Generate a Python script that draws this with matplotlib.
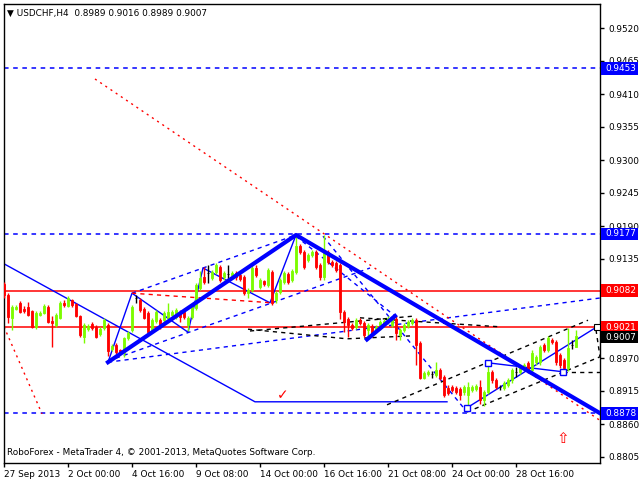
import matplotlib
matplotlib.use("Agg")
import matplotlib.pyplot as plt
from matplotlib.patches import Rectangle
import numpy as np

# USDCHF H4 candles
opens = [0.9093, 0.9075, 0.9037, 0.9052, 0.9062, 0.9052, 0.9055, 0.9048, 0.9022, 0.9042,
         0.9045, 0.9055, 0.9032, 0.9025, 0.9037, 0.9062, 0.9057, 0.9067, 0.9060, 0.9040,
         0.9005, 0.9018, 0.9027, 0.9022, 0.9010, 0.9020, 0.9025, 0.8985, 0.8992, 0.8983,
         0.8978, 0.9003, 0.9017, 0.9070, 0.9067, 0.9052, 0.9045, 0.9017, 0.9032, 0.9033,
         0.9033, 0.9037, 0.9042, 0.9038, 0.9047, 0.9047, 0.9025, 0.9038, 0.9053, 0.9087,
         0.9105, 0.9112, 0.9103, 0.9113, 0.9122, 0.9105, 0.9110, 0.9108, 0.9112, 0.9108,
         0.9105, 0.9078, 0.9083, 0.9120, 0.9088, 0.9098, 0.9092, 0.9113, 0.9067, 0.9080,
         0.9097, 0.9110, 0.9100, 0.9113, 0.9157, 0.9147, 0.9133, 0.9142, 0.9147, 0.9125,
         0.9105, 0.9147, 0.9130, 0.9128, 0.9125, 0.9047, 0.9035, 0.9025, 0.9022, 0.9033,
         0.9028, 0.9017, 0.9023, 0.9015, 0.9020, 0.9025, 0.9030, 0.9025, 0.9035, 0.9008,
         0.9017, 0.9023, 0.9028, 0.9033, 0.8995, 0.8937, 0.8943, 0.8944, 0.8942, 0.8950,
         0.8938, 0.8920, 0.8922, 0.8920, 0.8918, 0.8913, 0.8908, 0.8917, 0.8918, 0.8922,
         0.8900, 0.8913, 0.8947, 0.8933, 0.8921, 0.8920, 0.8925, 0.8933, 0.8946, 0.8947,
         0.8953, 0.8962, 0.8950, 0.8963, 0.8963, 0.8992, 0.8983, 0.9000, 0.8997, 0.8975,
         0.8967, 0.8953, 0.8992, 0.8989]
highs = [0.9097, 0.9078, 0.9058, 0.9058, 0.9065, 0.9057, 0.9063, 0.9050, 0.9048, 0.9048,
         0.9060, 0.9058, 0.9040, 0.9045, 0.9065, 0.9067, 0.9073, 0.9068, 0.9062, 0.9042,
         0.9028, 0.9027, 0.9030, 0.9025, 0.9022, 0.9037, 0.9028, 0.8993, 0.8995, 0.8985,
         0.9005, 0.9015, 0.9058, 0.9075, 0.9070, 0.9055, 0.9048, 0.9037, 0.9050, 0.9037,
         0.9048, 0.9062, 0.9050, 0.9053, 0.9050, 0.9050, 0.9040, 0.9058, 0.9095, 0.9115,
         0.9122, 0.9125, 0.9117, 0.9128, 0.9125, 0.9115, 0.9125, 0.9115, 0.9115, 0.9112,
         0.9108, 0.9087, 0.9123, 0.9125, 0.9103, 0.9100, 0.9120, 0.9117, 0.9082, 0.9103,
         0.9115, 0.9113, 0.9118, 0.9175, 0.9160, 0.9150, 0.9145, 0.9150, 0.9150, 0.9128,
         0.9175, 0.9150, 0.9133, 0.9132, 0.9128, 0.9050, 0.9038, 0.9028, 0.9037, 0.9037,
         0.9032, 0.9028, 0.9027, 0.9025, 0.9033, 0.9035, 0.9040, 0.9037, 0.9040, 0.9020,
         0.9028, 0.9033, 0.9037, 0.9037, 0.8998, 0.8948, 0.8950, 0.8948, 0.8963, 0.8953,
         0.8942, 0.8925, 0.8925, 0.8923, 0.8922, 0.8925, 0.8930, 0.8925, 0.8927, 0.8933,
         0.8917, 0.8963, 0.8950, 0.8937, 0.8925, 0.8932, 0.8937, 0.8953, 0.8955, 0.8958,
         0.8962, 0.8965, 0.8983, 0.8975, 0.8992, 0.8995, 0.9007, 0.9003, 0.9000, 0.8978,
         0.8970, 0.9020, 0.9000, 0.9016]
lows = [0.9070, 0.9028, 0.9017, 0.9050, 0.9045, 0.9045, 0.9040, 0.9020, 0.9018, 0.9040,
        0.9043, 0.9028, 0.8988, 0.9022, 0.9035, 0.9055, 0.9055, 0.9055, 0.9038, 0.9005,
        0.8995, 0.9015, 0.9017, 0.9003, 0.9007, 0.9017, 0.8973, 0.8982, 0.8977, 0.8975,
        0.8972, 0.9000, 0.9013, 0.9062, 0.9047, 0.9035, 0.9010, 0.9013, 0.9028, 0.9018,
        0.9030, 0.9035, 0.9040, 0.9035, 0.9030, 0.9035, 0.9015, 0.9035, 0.9050, 0.9083,
        0.9093, 0.9095, 0.9100, 0.9110, 0.9097, 0.9100, 0.9100, 0.9105, 0.9100, 0.9098,
        0.9075, 0.9070, 0.9080, 0.9105, 0.9085, 0.9090, 0.9088, 0.9058, 0.9062, 0.9077,
        0.9093, 0.9093, 0.9097, 0.9110, 0.9143, 0.9118, 0.9130, 0.9138, 0.9118, 0.9100,
        0.9100, 0.9127, 0.9122, 0.9113, 0.9035, 0.9013, 0.9005, 0.9017, 0.9018, 0.9025,
        0.9005, 0.9003, 0.9005, 0.9012, 0.9017, 0.9022, 0.9027, 0.9022, 0.9000, 0.9000,
        0.9013, 0.9020, 0.9025, 0.8958, 0.8935, 0.8935, 0.8940, 0.8937, 0.8938, 0.8933,
        0.8905, 0.8908, 0.8913, 0.8910, 0.8900, 0.8908, 0.8883, 0.8913, 0.8915, 0.8893,
        0.8890, 0.8910, 0.8928, 0.8918, 0.8917, 0.8917, 0.8922, 0.8928, 0.8938, 0.8943,
        0.8950, 0.8945, 0.8945, 0.8958, 0.8958, 0.8980, 0.8980, 0.8993, 0.8958, 0.8953,
        0.8948, 0.8948, 0.8985, 0.8989]
closes = [0.9075, 0.9038, 0.9055, 0.9055, 0.9047, 0.9048, 0.9042, 0.9022, 0.9045, 0.9045,
          0.9057, 0.9030, 0.9028, 0.9042, 0.9062, 0.9058, 0.9070, 0.9058, 0.9040, 0.9008,
          0.9025, 0.9023, 0.9020, 0.9005, 0.9018, 0.9033, 0.8982, 0.8990, 0.8980, 0.8978,
          0.9003, 0.9012, 0.9055, 0.9070, 0.9050, 0.9037, 0.9013, 0.9033, 0.9047, 0.9022,
          0.9045, 0.9047, 0.9047, 0.9050, 0.9038, 0.9038, 0.9037, 0.9055, 0.9092, 0.9103,
          0.9097, 0.9112, 0.9113, 0.9125, 0.9100, 0.9112, 0.9110, 0.9112, 0.9105, 0.9102,
          0.9078, 0.9083, 0.9120, 0.9108, 0.9100, 0.9093, 0.9117, 0.9062, 0.9078, 0.9100,
          0.9112, 0.9097, 0.9115, 0.9157, 0.9147, 0.9122, 0.9142, 0.9147, 0.9122, 0.9105,
          0.9147, 0.9130, 0.9125, 0.9117, 0.9047, 0.9030, 0.9025, 0.9020, 0.9033, 0.9028,
          0.9008, 0.9025, 0.9008, 0.9022, 0.9030, 0.9032, 0.9037, 0.9033, 0.9012, 0.9017,
          0.9025, 0.9030, 0.9033, 0.8992, 0.8937, 0.8945, 0.8947, 0.8944, 0.8950, 0.8937,
          0.8908, 0.8912, 0.8917, 0.8913, 0.8908, 0.8922, 0.8922, 0.8922, 0.8923, 0.8900,
          0.8913, 0.8947, 0.8933, 0.8922, 0.8921, 0.8928, 0.8933, 0.8950, 0.8946, 0.8955,
          0.8958, 0.8950, 0.8978, 0.8972, 0.8988, 0.8983, 0.9003, 0.8997, 0.8963, 0.8958,
          0.8953, 0.8987, 0.8992, 0.9007]

tick_bars = [0, 16, 32, 48, 64, 80, 96, 112, 128]
tick_labels = ["27 Sep 2013", "2 Oct 00:00", "4 Oct 16:00", "9 Oct 08:00", "14 Oct 00:00",
               "16 Oct 16:00", "21 Oct 08:00", "24 Oct 00:00", "28 Oct 16:00"]
price_ticks = [0.8805, 0.8860, 0.8915, 0.8970, 0.9025, 0.9080, 0.9135, 0.9190,
               0.9245, 0.9300, 0.9355, 0.9410, 0.9465, 0.9520]
covered_ticks = [0.9025, 0.9080]   # fully hidden under the price boxes

# levels: (price, colour, style)
levels = [(0.9453, "#0000ff", "--"), (0.9177, "#0000ff", "--"), (0.9082, "#ff0000", "-"),
          (0.9021, "#ff0000", "-"), (0.8878, "#0000ff", "--")]
last_price = 0.9007

# analysis lines as (bar, price) anchors
thick_blue = [([26, 73, 149], [0.8963, 0.9175, 0.8878]),
              ([90.75, 97.75], [0.9001, 0.9040])]
thin_blue = [([0, 62.75, 110.75], [0.9127, 0.8897, 0.8897]),
             ([26, 32, 46, 49.75, 66.5, 73], [0.8963, 0.9078, 0.9013, 0.9120, 0.9062, 0.9175]),
             ([115.75, 148.25], [0.8887, 0.9022]),
             ([121, 139.75], [0.8962, 0.8947])]
dashed_blue = [([26, 149], [0.8963, 0.9070]),
               ([26, 91.5], [0.8965, 0.9120]),
               ([32, 73], [0.9078, 0.9175]),
               ([73, 97.75], [0.9173, 0.9040]),
               ([79.75, 115.75], [0.9173, 0.8880])]
dotted_red = [([22.75, 149], [0.9435, 0.8866]),
              ([0, 9.5], [0.9022, 0.8877])]
dashed_red = [([32, 67], [0.9078, 0.9062])]
dashed_black = [([61.5, 102.75], [0.9015, 0.9040]),
                ([89, 124], [0.9037, 0.9022]),
                ([61, 85.75, 102.25], [0.9018, 0.9002, 0.9007]),
                ([95.75, 146], [0.8892, 0.9033]),
                ([115.75, 149], [0.8880, 0.8972]),
                ([139.75, 149], [0.8947, 0.8947]),
                ([148, 149], [0.9017, 0.8972])]
blue_squares = ([115.75, 121, 139.75], [0.8887, 0.8962, 0.8947])

GREEN = "#7cfc00"
RED = "#ff0000"
FS = 6.4

fig = plt.figure(figsize=(6.4, 4.8), dpi=100)
ax = fig.add_axes([4 / 640, 17 / 480, 596 / 640, 459 / 480])

x = np.arange(len(closes))
o = np.array(opens)
c = np.array(closes)
colors = [("black" if oo == cc else (GREEN if cc > oo else RED)) for oo, cc in zip(o, c)]

# candles
ax.vlines(x, lows, highs, colors=colors, lw=1, zorder=3)
ax.bar(x, np.abs(c - o), bottom=np.minimum(o, c), width=0.7, color=colors,
       edgecolor=colors, linewidth=0.6, zorder=4)

# levels
for p, col, ls in levels:
    if ls == "--":
        ax.axhline(p, color=col, lw=1.1, dashes=(3, 3), zorder=2)
    else:
        ax.axhline(p, color=col, lw=1.1, zorder=2)

for xs, ys in thick_blue:
    ax.plot(xs, ys, color="#0000ff", lw=3, zorder=5)
for xs, ys in thin_blue:
    ax.plot(xs, ys, color="#0000ff", lw=1, zorder=2)
for xs, ys in dashed_blue:
    ax.plot(xs, ys, color="#0000ff", lw=1, dashes=(3, 3), zorder=2)
for xs, ys in dotted_red:
    ax.plot(xs, ys, color=RED, lw=1, dashes=(1.5, 3), zorder=2)
for xs, ys in dashed_red:
    ax.plot(xs, ys, color=RED, lw=1, dashes=(3, 3), zorder=2)
for xs, ys in dashed_black:
    ax.plot(xs, ys, color="black", lw=1, dashes=(3, 3), zorder=2)
ax.plot(blue_squares[0], blue_squares[1], ls="none", marker="s", ms=5, mfc="white",
        mec="#0000ff", mew=1, zorder=6)
ax.plot([148.25], [0.9022], ls="none", marker="s", ms=4, mfc="white", mec="black", mew=0.8, zorder=6)

# marks
ax.text(69.75, 0.8897, "\u2713", color=RED, fontsize=10, ha="center", va="bottom", zorder=6)
ax.text(139.75, 0.8836, "\u21e7", color=RED, fontsize=11, ha="center", va="center", zorder=6)

ax.set_xlim(0, 149)
ax.set_ylim(0.8795, 0.9560)

ax.set_xticks(tick_bars)
ax.set_xticklabels(tick_labels)
for lbl in ax.get_xticklabels():
    lbl.set_horizontalalignment("left")
ax.tick_params(axis="x", length=3, width=1, pad=2, labelsize=FS, direction="out")

ax.yaxis.tick_right()
ax.set_yticks(price_ticks)
ax.set_yticklabels(["" if p in covered_ticks else f"{p:.4f}" for p in price_ticks])
ax.tick_params(axis="y", length=3, width=1, pad=3, labelsize=FS, direction="out")

for sp in ax.spines.values():
    sp.set_color("black")
    sp.set_linewidth(1)

# price boxes on the right scale
tr = ax.get_yaxis_transform()
box_w = 37 / 596
box_h = 0.0021
boxes = [(p, col) for p, col, ls in levels] + [(last_price - 0.0002, "black")]
for p, col in boxes:
    ax.add_patch(Rectangle((1.002, p - box_h / 2), box_w, box_h, transform=tr,
                           fc=col, ec=col, lw=0, clip_on=False, zorder=9))
    ax.text(1.009, p, f"{(last_price if col == 'black' else p):.4f}", transform=tr,
            ha="left", va="center", fontsize=FS, color="white", zorder=10, clip_on=False)

ax.text(0.005, 0.99, "\u25bc USDCHF,H4  0.8989 0.9016 0.8989 0.9007", transform=ax.transAxes,
        ha="left", va="top", fontsize=FS, color="black")
ax.text(0.005, 0.012, "RoboForex - MetaTrader 4, \u00a9 2001-2013, MetaQuotes Software Corp.",
        transform=ax.transAxes, ha="left", va="bottom", fontsize=FS, color="black")

fig.savefig("out.png", dpi=100)
